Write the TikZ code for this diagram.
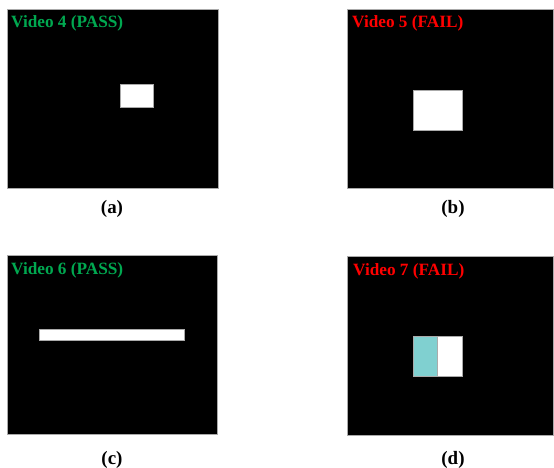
\documentclass[tikz,border=0pt]{standalone}
\usepackage{fontspec}
\setmainfont{Liberation Serif}
\definecolor{passgreen}{RGB}{0,168,80}
\definecolor{failred}{RGB}{255,0,0}
\definecolor{cyanbox}{RGB}{128,208,208}
\definecolor{frame}{RGB}{170,170,170}
\begin{document}
\begin{tikzpicture}[x=1bp,y=-1bp,
  panel/.style={fill=black,draw=frame,line width=0.6bp},
  obj/.style={fill=white,draw=frame,line width=0.5bp},
  title/.style={anchor=base west,inner sep=0pt,font=\fontsize{17.3}{17.3}\selectfont\bfseries},
  caption/.style={anchor=base,inner sep=0pt,font=\fontsize{19}{19}\selectfont\bfseries}]
\useasboundingbox[fill=white] (0,0) rectangle (554,468);
% panel a
\path[panel] (7,9.5) rectangle (218,188);
\path[obj] (120,84) rectangle (153,107);
\node[title,text=passgreen] (ta) at (11,28) {Video 4 (PASS)};
\node[caption] (ca) at (112,214) {(a)};
% panel b
\path[panel] (347.3,9.5) rectangle (553.5,188);
\path[obj] (413.3,90) rectangle (462.3,130);
\node[title,text=failred] (tb) at (352,28) {Video 5 (FAIL)};
\node[caption] (cb) at (453,214) {(b)};
% panel c
\path[panel] (7,255) rectangle (217.7,434);
\path[obj] (39.3,329.3) rectangle (184.3,340.3);
\node[title,text=passgreen] (tc) at (11,275) {Video 6 (PASS)};
\node[caption] (cc) at (112,464) {(c)};
% panel d
\path[panel] (347.3,256) rectangle (553.5,435);
\path[obj,fill=cyanbox] (413.3,336.7) rectangle (437.7,376.7);
\path[obj] (437.7,336.7) rectangle (462.3,376.7);
\node[title,text=failred] (td) at (353,276) {Video 7 (FAIL)};
\node[caption] (cd) at (453,464) {(d)};
\end{tikzpicture}
\end{document}
